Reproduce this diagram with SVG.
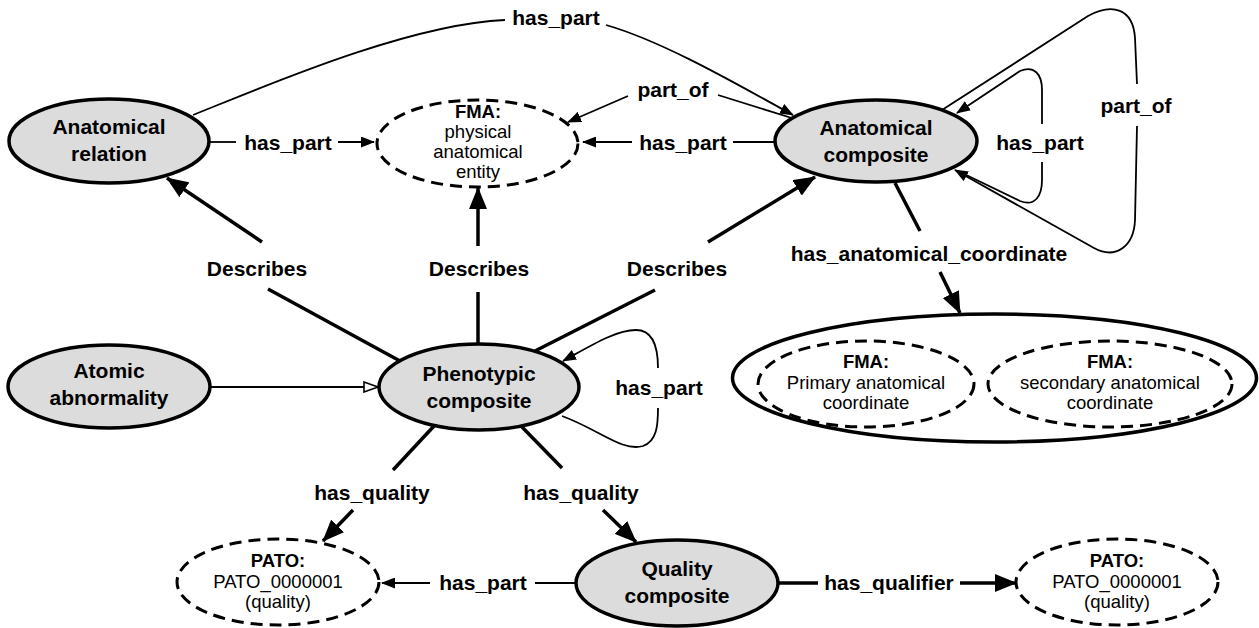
<svg xmlns="http://www.w3.org/2000/svg" width="1259" height="628" viewBox="0 0 1259 628">
<defs>
<style>
.node{fill:#dcdcdc;stroke:#000;stroke-width:3.5}
.dash{fill:#fff;stroke:#000;stroke-width:3;stroke-dasharray:12 7}
.big{fill:#fff;stroke:#000;stroke-width:3.5}
.thin{fill:none;stroke:#000;stroke-width:1.8}
.thick{fill:none;stroke:#000;stroke-width:3.5}
.t{font-family:"Liberation Sans",Arial,sans-serif;font-size:21px;font-weight:bold;text-anchor:middle;fill:#000}
.n{font-family:"Liberation Sans",Arial,sans-serif;font-size:18.5px;text-anchor:middle;fill:#000}
.nb{font-family:"Liberation Sans",Arial,sans-serif;font-size:18.5px;font-weight:bold;text-anchor:middle;fill:#000}
</style>
<marker id="a" viewBox="0 0 14 11" refX="13" refY="5.5" markerWidth="14" markerHeight="11" markerUnits="userSpaceOnUse" orient="auto"><path d="M0,0 L14,5.5 L0,11 z" fill="#000"/></marker>
<marker id="A" viewBox="0 0 22 18" refX="21" refY="9" markerWidth="22" markerHeight="18" markerUnits="userSpaceOnUse" orient="auto"><path d="M0,0 L22,9 L0,18 z" fill="#000"/></marker>
<marker id="o" viewBox="0 0 16 12" refX="15" refY="6" markerWidth="16" markerHeight="12" markerUnits="userSpaceOnUse" orient="auto"><path d="M1,1 L15,6 L1,11 z" fill="#fff" stroke="#000" stroke-width="1.6"/></marker>
</defs>
<rect width="1259" height="628" fill="#fff"/>

<g id="connectors">
<path class="thin" d="M193,115 C270,84 410,24 505,20"/>
<path class="thin" d="M606,25 C665,42 740,86 793,115" marker-end="url(#a)"/>
<text class="t" x="556" y="25">has_part</text>

<path class="thin" d="M209,142 L236,142"/>
<path class="thin" d="M338,142 L374,142" marker-end="url(#a)"/>
<text class="t" x="288" y="150">has_part</text>

<path class="thin" d="M775,142 L733,142"/>
<path class="thin" d="M632,142 L583,142" marker-end="url(#a)"/>
<text class="t" x="683" y="150">has_part</text>

<path class="thin" d="M795,119 L718,95"/>
<path class="thin" d="M628,96 L568,122" marker-end="url(#a)"/>
<text class="t" x="673" y="97">part_of</text>

<path class="thick" d="M400,361 L268,289"/>
<path class="thick" d="M262,242 L167,178" marker-end="url(#A)"/>
<text class="t" x="257" y="276">Describes</text>

<path class="thick" d="M478,344 L478,292"/>
<path class="thick" d="M478,246 L478,188" marker-end="url(#A)"/>
<text class="t" x="479" y="276">Describes</text>

<path class="thick" d="M535,351 L655,290"/>
<path class="thick" d="M708,242 L815,177" marker-end="url(#A)"/>
<text class="t" x="677" y="276">Describes</text>

<path class="thin" d="M210,387 L378,387" marker-end="url(#o)"/>

<path class="thin" d="M562,416 C600,430 622,452 643,446 C657,441 658,425 658,408"/>
<path class="thin" d="M658,368 C658,345 652,330 636,330 C616,330 592,345 563,361" marker-end="url(#a)"/>
<text class="t" x="659" y="395">has_part</text>

<path class="thick" d="M895,183 L920,231"/>
<path class="thick" d="M940,272 L960,313" marker-end="url(#A)"/>
<text class="t" x="929" y="261">has_anatomical_coordinate</text>

<path class="thin" d="M958,171 L1020,201 C1035,207 1042,196 1042,180 L1042,162"/>
<path class="thin" d="M1042,124 L1042,90 C1042,74 1034,65 1020,71 L957,113" marker-end="url(#a)"/>
<text class="t" x="1040" y="150">has_part</text>

<path class="thin" d="M942,110 L1088,16 C1112,3 1133,8 1135,38 L1137,84"/>
<path class="thin" d="M1137,126 L1135,220 C1134,246 1116,260 1094,248 L955,170" marker-end="url(#a)"/>
<text class="t" x="1136" y="113">part_of</text>

<path class="thick" d="M434,426 L393,470"/>
<path class="thick" d="M353,510 L323,541" marker-end="url(#A)"/>
<text class="t" x="372" y="500">has_quality</text>

<path class="thick" d="M522,427 L562,468"/>
<path class="thick" d="M603,510 L636,542" marker-end="url(#A)"/>
<text class="t" x="581" y="500">has_quality</text>

<path class="thin" d="M577,583 L535,583"/>
<path class="thin" d="M430,583 L382,583" marker-end="url(#a)"/>
<text class="t" x="483" y="590">has_part</text>

<path class="thick" d="M778,583 L818,583"/>
<path class="thick" d="M960,583 L1016,583" marker-end="url(#A)"/>
<text class="t" x="889" y="590">has_qualifier</text>
</g>

<g id="anatomical-relation">
<ellipse class="node" cx="109" cy="141" rx="100" ry="42"/>
<text class="t" x="109" y="134">Anatomical</text>
<text class="t" x="109" y="161">relation</text>
</g>

<g id="fma-physical">
<ellipse class="dash" cx="477.5" cy="143.5" rx="100.5" ry="43.5"/>
<text class="nb" x="478" y="118">FMA:</text>
<text class="n" x="478" y="138">physical</text>
<text class="n" x="478" y="158">anatomical</text>
<text class="n" x="478" y="178">entity</text>
</g>

<g id="anatomical-composite">
<ellipse class="node" cx="876" cy="141" rx="101" ry="41"/>
<text class="t" x="876" y="135">Anatomical</text>
<text class="t" x="876" y="162">composite</text>
</g>

<g id="atomic-abnormality">
<ellipse class="node" cx="109" cy="386.5" rx="101" ry="41.5"/>
<text class="t" x="109" y="378">Atomic</text>
<text class="t" x="109" y="405">abnormality</text>
</g>

<g id="phenotypic-composite">
<ellipse class="node" cx="479" cy="387" rx="100" ry="43"/>
<text class="t" x="479" y="381">Phenotypic</text>
<text class="t" x="479" y="408">composite</text>
</g>

<g id="anatomical-coordinate">
<ellipse class="big" cx="994.5" cy="378" rx="262" ry="64"/>
<g id="fma-primary">
<ellipse class="dash" cx="866" cy="384" rx="108" ry="43"/>
<text class="nb" x="866" y="368">FMA:</text>
<text class="n" x="866" y="389">Primary anatomical</text>
<text class="n" x="866" y="409">coordinate</text>
</g>
<g id="fma-secondary">
<ellipse class="dash" cx="1110" cy="384" rx="122" ry="43"/>
<text class="nb" x="1110" y="368">FMA:</text>
<text class="n" x="1110" y="389">secondary anatomical</text>
<text class="n" x="1110" y="409">coordinate</text>
</g>
</g>

<g id="pato-left">
<ellipse class="dash" cx="278" cy="582" rx="101" ry="43"/>
<text class="nb" x="278" y="567">PATO:</text>
<text class="n" x="278" y="588">PATO_0000001</text>
<text class="n" x="278" y="608">(quality)</text>
</g>

<g id="quality-composite">
<ellipse class="node" cx="677" cy="583" rx="101" ry="43"/>
<text class="t" x="677" y="576">Quality</text>
<text class="t" x="677" y="603">composite</text>
</g>

<g id="pato-right">
<ellipse class="dash" cx="1117" cy="582" rx="101" ry="43"/>
<text class="nb" x="1117" y="567">PATO:</text>
<text class="n" x="1117" y="588">PATO_0000001</text>
<text class="n" x="1117" y="608">(quality)</text>
</g>
</svg>
